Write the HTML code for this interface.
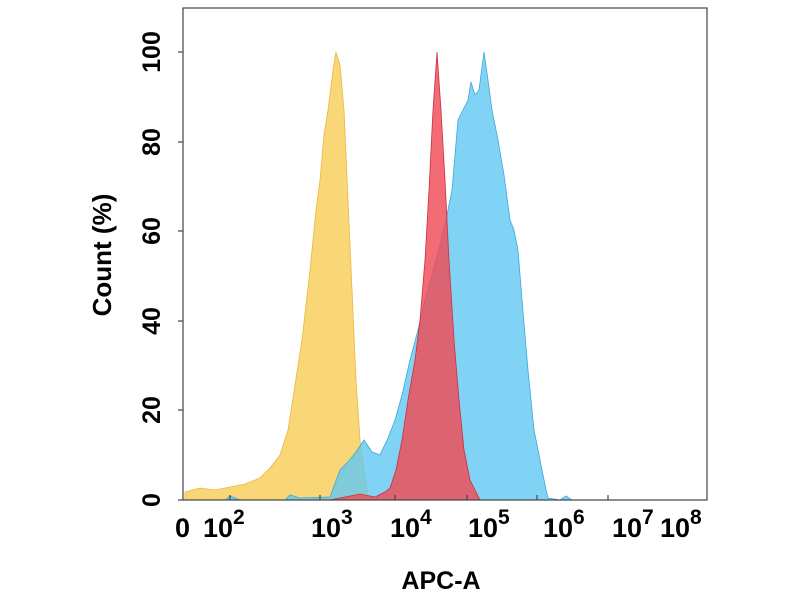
<!DOCTYPE html>
<html><head><meta charset="utf-8"><style>
body{margin:0;background:#fff;}
svg{display:block;font-family:"Liberation Sans",Arial,sans-serif;font-weight:bold;}
</style></head><body>
<svg width="800" height="600" viewBox="0 0 800 600">
<rect x="0" y="0" width="800" height="600" fill="#fff"/>
<path d="M185,500 L185,492 L200,488 L215,490 L230,487 L245,484 L260,478 L270,468 L280,455 L288,430 L295,385 L302,340 L310,270 L316,210 L320,180 L324,135 L328,110 L333,70 L336,52 L340,65 L344,110 L348,200 L352,290 L356,380 L360,440 L364,470 L368,495 L370,500 Z" fill="#f8cf5e" fill-opacity="0.85" stroke="#e8b840" stroke-width="0.8"/>
<path d="M225,500 L230,496 L240,500 L285,500 L290,495 L300,498 L330,497 L340,470 L348,462 L356,452 L364,440 L372,452 L380,455 L388,438 L395,420 L402,395 L410,360 L418,330 L425,300 L432,275 L440,245 L447,215 L452,190 L458,120 L463,110 L468,100 L471,82 L475,95 L479,90 L484,52 L488,80 L492,110 L498,140 L504,175 L510,220 L514,230 L518,250 L522,300 L528,370 L534,430 L540,460 L545,485 L548,498 L560,500 L566,496 L572,500 Z" fill="#62c8f2" fill-opacity="0.8" stroke="#3aa8d8" stroke-width="0.8"/>
<path d="M330,500 L345,497 L360,494 L375,497 L385,492 L390,488 L396,470 L402,440 L408,400 L415,360 L420,320 L425,260 L429,190 L433,110 L437,52 L441,110 L445,180 L449,260 L454,340 L459,400 L464,450 L470,480 L476,492 L480,500 Z" fill="#f04a55" fill-opacity="0.82" stroke="#c83040" stroke-width="0.8"/>
<rect x="183" y="8" width="524" height="492" fill="none" stroke="#444" stroke-width="1.2"/>
<g stroke="#444" stroke-width="1.2">
<line x1="178" y1="500" x2="183" y2="500"/><line x1="178" y1="410" x2="183" y2="410"/>
<line x1="178" y1="321" x2="183" y2="321"/><line x1="178" y1="231" x2="183" y2="231"/>
<line x1="178" y1="142" x2="183" y2="142"/><line x1="178" y1="52" x2="183" y2="52"/>
<line x1="230" y1="500" x2="230" y2="495"/><line x1="320" y1="500" x2="320" y2="495"/>
<line x1="395" y1="500" x2="395" y2="495"/><line x1="467" y1="500" x2="467" y2="495"/>
<line x1="537" y1="500" x2="537" y2="495"/><line x1="608" y1="500" x2="608" y2="495"/>
</g>
<g font-size="25" text-anchor="middle" fill="#000">
<text transform="translate(160,500) rotate(-90)">0</text>
<text transform="translate(160,410) rotate(-90)">20</text>
<text transform="translate(160,321) rotate(-90)">40</text>
<text transform="translate(160,231) rotate(-90)">60</text>
<text transform="translate(160,142) rotate(-90)">80</text>
<text transform="translate(160,52) rotate(-90)">100</text>
<text transform="translate(111,255) rotate(-90)" font-size="26">Count  (%)</text>
</g>
<g font-size="27" fill="#000">
<text x="175" y="537">0</text>
<text x="203" y="537">10<tspan font-size="21" dy="-13">2</tspan></text>
<text x="311" y="537">10<tspan font-size="21" dy="-13">3</tspan></text>
<text x="390" y="537">10<tspan font-size="21" dy="-13">4</tspan></text>
<text x="468" y="537">10<tspan font-size="21" dy="-13">5</tspan></text>
<text x="543" y="537">10<tspan font-size="21" dy="-13">6</tspan></text>
<text x="612" y="537">10<tspan font-size="21" dy="-13">7</tspan></text>
<text x="660" y="537">10<tspan font-size="21" dy="-13">8</tspan></text>
<text x="441" y="589" font-size="25" text-anchor="middle">APC-A</text>
</g>
</svg>
</body></html>
